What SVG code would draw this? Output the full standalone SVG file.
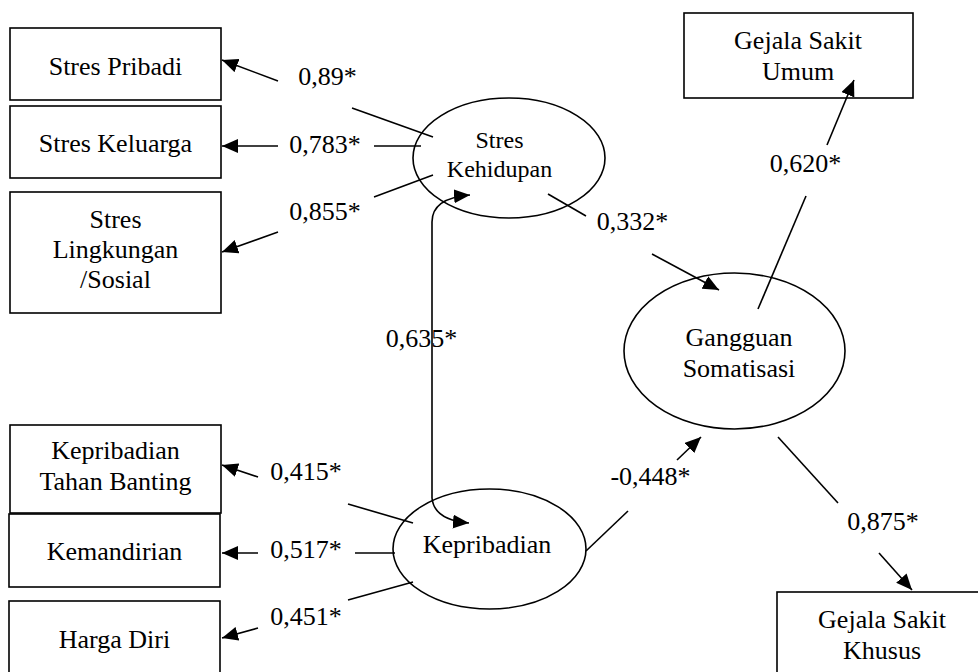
<svg xmlns="http://www.w3.org/2000/svg" width="978" height="672" viewBox="0 0 978 672">
<style>
.box{fill:#fff;stroke:#000;stroke-width:1.6}
.ell{fill:#fff;stroke:#000;stroke-width:1.6}
text{font-family:'Liberation Serif','DejaVu Serif',serif;font-size:26px;fill:#000;text-anchor:middle}
.ts{font-size:24px}
.ln{stroke:#000;stroke-width:1.6;fill:none}
.ar{marker-end:url(#ah)}
</style>
<defs>
<marker id="ah" markerUnits="userSpaceOnUse" markerWidth="16" markerHeight="14" refX="16" refY="7" orient="auto" viewBox="0 0 16 14">
<path d="M0,0 L16,7 L0,14 z" fill="#000"/>
</marker>
<marker id="ahs" markerUnits="userSpaceOnUse" markerWidth="16" markerHeight="14" refX="16" refY="7" orient="auto-start-reverse" viewBox="0 0 16 14">
<path d="M0,0 L16,7 L0,14 z" fill="#000"/>
</marker>
</defs>
<rect width="978" height="672" fill="#fff"/>

<g id="stres-pribadi"><rect class="box" x="10" y="28" width="211" height="72"/><text x="115.5" y="75">Stres Pribadi</text></g>
<g id="stres-keluarga"><rect class="box" x="10" y="106" width="211" height="72"/><text x="115.5" y="152">Stres Keluarga</text></g>
<g id="stres-lingkungan"><rect class="box" x="10" y="192" width="211" height="121"/><text x="115.5" y="228">Stres</text><text x="115.5" y="258">Lingkungan</text><text x="115.5" y="288">/Sosial</text></g>
<g id="kepribadian-tahan-banting"><rect class="box" x="10" y="425" width="211" height="88"/><text x="115.5" y="459">Kepribadian</text><text x="115.5" y="490">Tahan Banting</text></g>
<g id="kemandirian"><rect class="box" x="9" y="514" width="211" height="73"/><text x="114.5" y="560">Kemandirian</text></g>
<g id="harga-diri"><rect class="box" x="9" y="601" width="211" height="90"/><text x="114.5" y="648">Harga Diri</text></g>
<g id="gejala-umum"><rect class="box" x="684" y="13" width="229" height="85"/><text x="798" y="49">Gejala Sakit</text><text x="798" y="80">Umum</text></g>
<g id="gejala-khusus"><rect class="box" x="777" y="592" width="212" height="100"/><text x="882" y="628">Gejala Sakit</text><text x="882" y="659">Khusus</text></g>

<g id="stres-kehidupan"><ellipse class="ell" cx="509" cy="158" rx="96" ry="60"/><text class="ts" x="499.5" y="148">Stres</text><text class="ts" x="499.5" y="177">Kehidupan</text></g>
<g id="kepribadian"><ellipse class="ell" cx="489.5" cy="549" rx="96.5" ry="60"/><text x="487" y="553">Kepribadian</text></g>
<g id="gangguan-somatisasi"><ellipse class="ell" cx="734.5" cy="351" rx="110.5" ry="78"/><text x="739" y="346">Gangguan</text><text x="739" y="377">Somatisasi</text></g>

<g id="connectors">
<line class="ln ar" x1="278" y1="81" x2="222" y2="60"/>
<line class="ln" x1="352" y1="108" x2="433" y2="137"/>
<line class="ln ar" x1="278" y1="146" x2="222" y2="146"/>
<line class="ln" x1="374" y1="146" x2="421" y2="146"/>
<line class="ln ar" x1="278" y1="232" x2="222" y2="252"/>
<line class="ln" x1="374" y1="197" x2="433" y2="175"/>

<line class="ln ar" x1="258" y1="477" x2="222" y2="465"/>
<line class="ln" x1="348" y1="504" x2="413" y2="523"/>
<line class="ln ar" x1="258" y1="553" x2="222" y2="553"/>
<line class="ln" x1="355" y1="553" x2="395" y2="553"/>
<line class="ln ar" x1="258" y1="628" x2="222" y2="638"/>
<line class="ln" x1="348" y1="600" x2="413" y2="582"/>

<path class="ln" d="M470,195 Q432,198 432,222 L432,498 Q434,520 469,523" marker-start="url(#ahs)" marker-end="url(#ah)"/>

<line class="ln" x1="548" y1="194" x2="586" y2="216"/>
<line class="ln ar" x1="652" y1="254" x2="719" y2="290"/>
<line class="ln" x1="758" y1="309" x2="806" y2="196"/>
<line class="ln ar" x1="827" y1="145" x2="854" y2="80"/>
<line class="ln" x1="586" y1="551" x2="628" y2="511"/>
<line class="ln ar" x1="677" y1="460" x2="701" y2="437"/>
<line class="ln" x1="778" y1="437" x2="838" y2="503"/>
<line class="ln ar" x1="879" y1="553" x2="912" y2="590"/>
</g>

<g id="labels">
<text x="327.5" y="85">0,89*</text>
<text x="325" y="153">0,783*</text>
<text x="325" y="220">0,855*</text>
<text x="306" y="480">0,415*</text>
<text x="306" y="558">0,517*</text>
<text x="306" y="625">0,451*</text>
<text x="421.5" y="347">0,635*</text>
<text x="632.5" y="230">0,332*</text>
<text x="805.5" y="172">0,620*</text>
<text x="650.5" y="485">-0,448*</text>
<text x="883" y="530">0,875*</text>
</g>
</svg>
